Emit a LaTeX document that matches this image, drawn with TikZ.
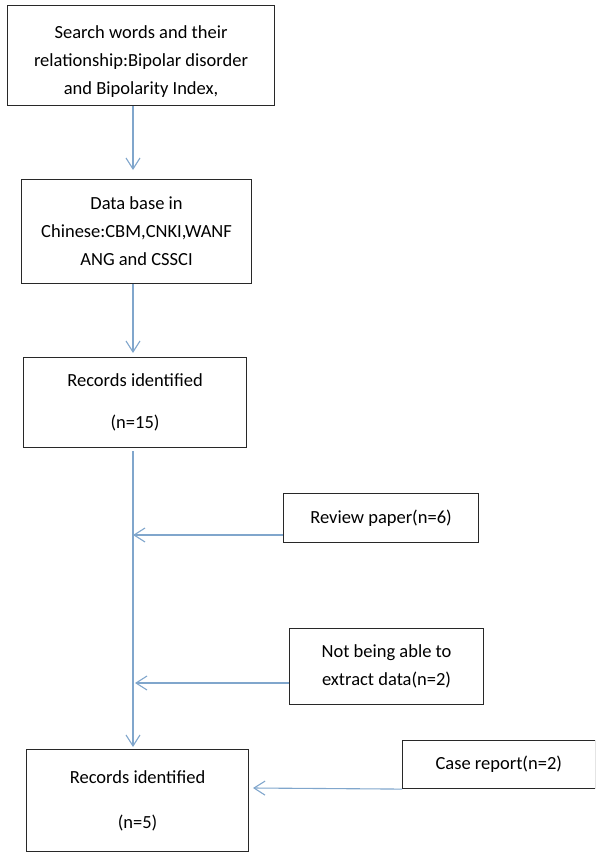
\documentclass[tikz,border=0pt]{standalone}
\usepackage{fontspec}
\setmainfont{Carlito}
\usetikzlibrary{arrows.meta}

\definecolor{flowblue}{RGB}{128,166,204}
\definecolor{boxline}{RGB}{40,40,40}

\tikzset{
	box/.style={draw=boxline, line width=1.1pt, rectangle, align=center, anchor=north west,
		inner sep=0pt, font=\fontsize{18.5}{28}\selectfont},
	flow/.style={draw=flowblue, line width=1.1pt, -{Straight Barb[length=11pt,width=14pt,line width=1.1pt]}}
}

\begin{document}
\begin{tikzpicture}[x=1pt,y=-1pt]
	\useasboundingbox (0,0) rectangle (595,852);
	\clip (0,0) rectangle (595,852);
	\node[box, minimum width=267pt, minimum height=100pt] (search) at (7,5)
		{\mbox{}\\[-4pt]Search words and their\\relationship:Bipolar disorder\\and Bipolarity Index,};
	\node[box, minimum width=230pt, minimum height=104pt] (database) at (21,179)
		{Data base in\\Chinese:CBM,CNKI,WANF\\ANG and CSSCI};
	\node[box, minimum width=223pt, minimum height=90pt] (records) at (23,357)
		{Records identified\\[14pt](n=15)};
	\node[box, minimum width=195pt, minimum height=49pt] (review) at (283,493)
		{Review paper(n=6)};
	\node[box, minimum width=194pt, minimum height=76pt] (extract) at (289,628)
		{Not being able to\\extract data(n=2)};
	\node[box, minimum width=192.5pt, minimum height=48pt] (casereport) at (402,740)
		{Case report(n=2)};
	\node[box, minimum width=222pt, minimum height=102pt] (included) at (26,749)
		{Records identified\\[17pt](n=5)};

	\coordinate (spine) at (133,0);
	\coordinate (j1) at (133,535);
	\coordinate (j2) at (135,683);
	\coordinate (j3) at (253,788);

	\draw[flow, shorten >=9pt] (search.south -| spine) -- (database.north -| spine);
	\draw[flow, shorten >=4pt] (database.south -| spine) -- (records.north -| spine);
	\draw[flow, shorten <=3pt, shorten >=2pt] (records.south -| spine) -- (included.north -| spine);
	\draw[flow] (review.west |- j1) -- (j1);
	\draw[flow] (extract.west |- j2) -- (j2);
	\draw[flow] (casereport.south west) -- (j3);
\end{tikzpicture}
\end{document}
